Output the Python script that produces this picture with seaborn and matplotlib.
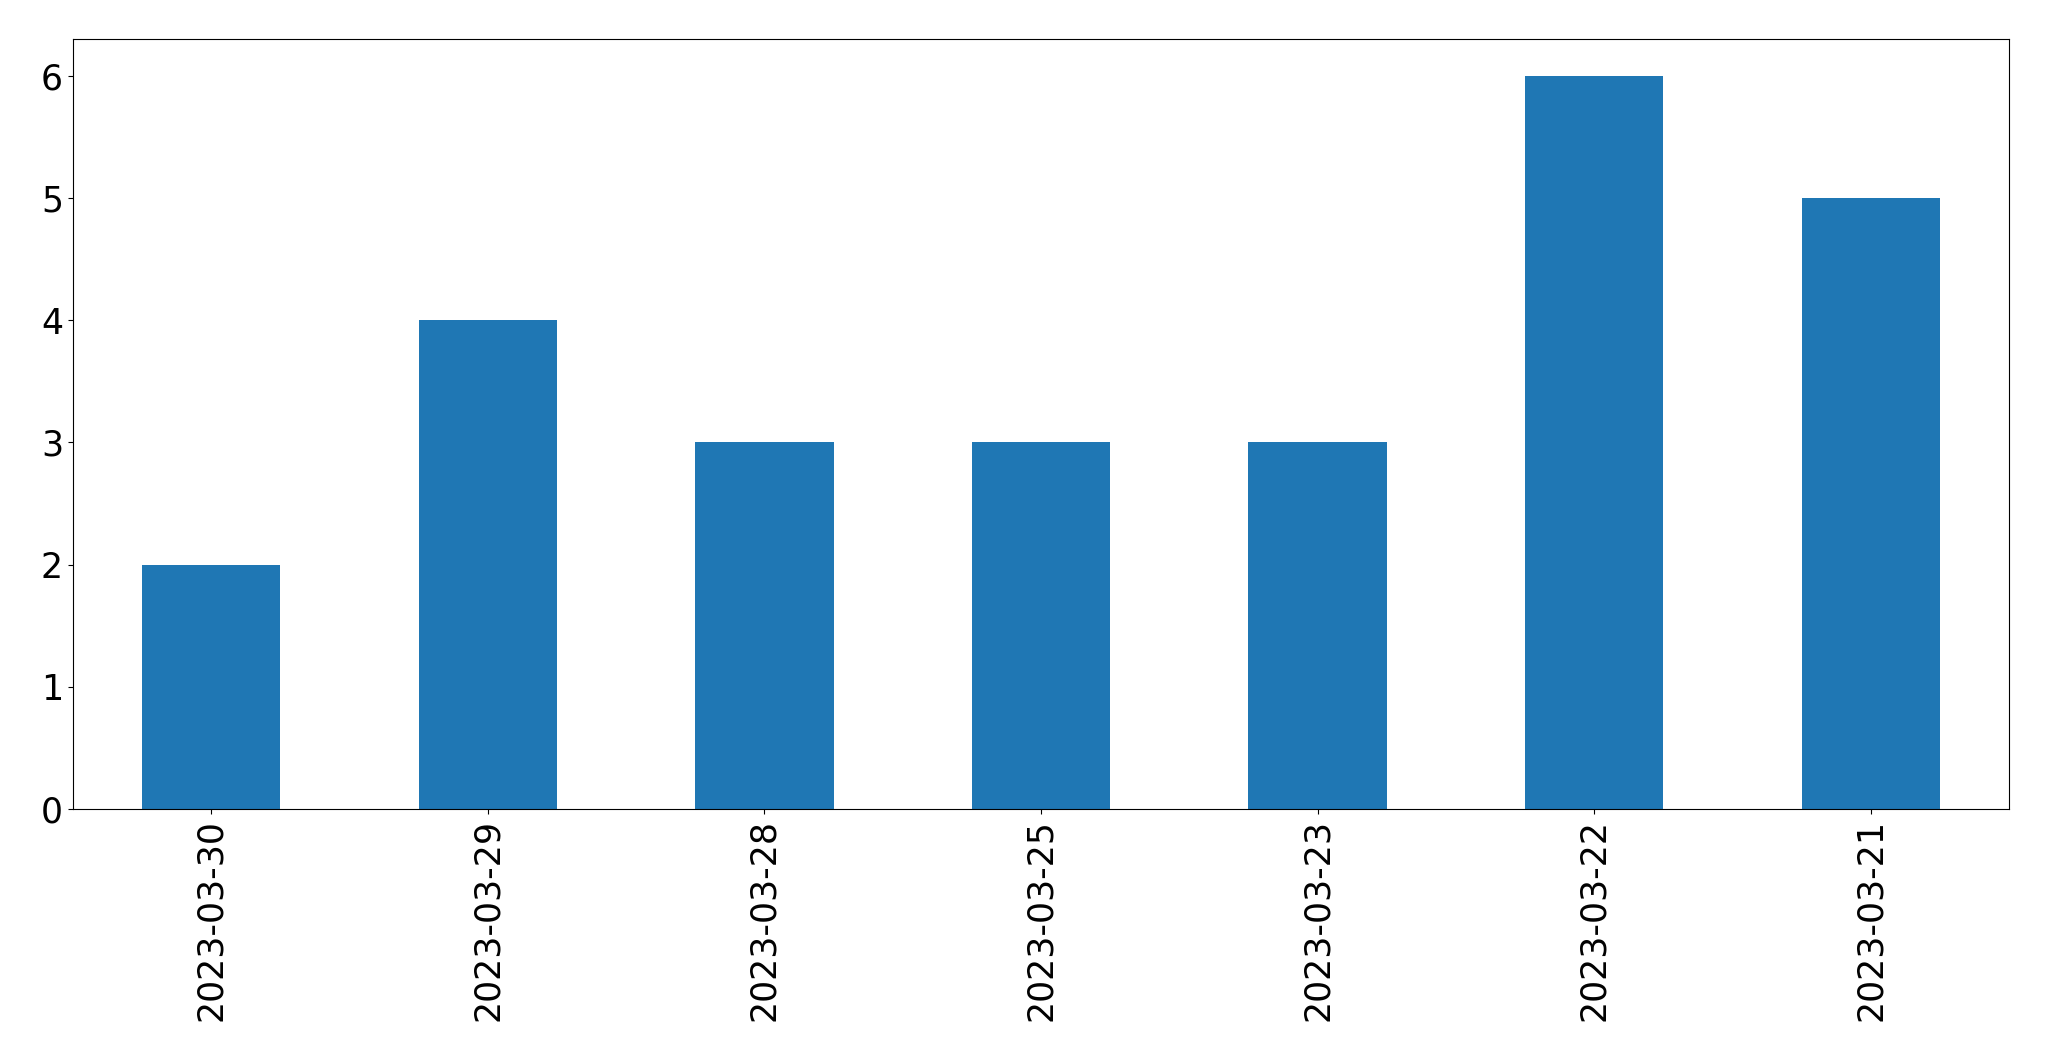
import pandas as pd
import matplotlib
matplotlib.use("Agg")
import matplotlib.pyplot as plt
import seaborn as sns

# data
dates = ['2023-03-30', '2023-03-29', '2023-03-28', '2023-03-25',
         '2023-03-23', '2023-03-22', '2023-03-21']
counts = [2, 4, 3, 3, 3, 6, 5]

df = pd.DataFrame({'date': dates, 'count': counts})

fig, ax = plt.subplots(figsize=(20.49, 10.61), dpi=100)
sns.barplot(data=df, x='date', y='count', color='#1f77b4',
            saturation=1, width=0.5, ax=ax)

ax.set_xlim(-0.5, len(dates) - 0.5)
ax.set_xlabel('')
ax.set_ylabel('')
ax.tick_params(axis='both', labelsize=25)
plt.xticks(rotation=90)

fig.subplots_adjust(left=0.0355, right=0.9806, top=0.963, bottom=0.2375)
fig.savefig('out.png', dpi=100)
